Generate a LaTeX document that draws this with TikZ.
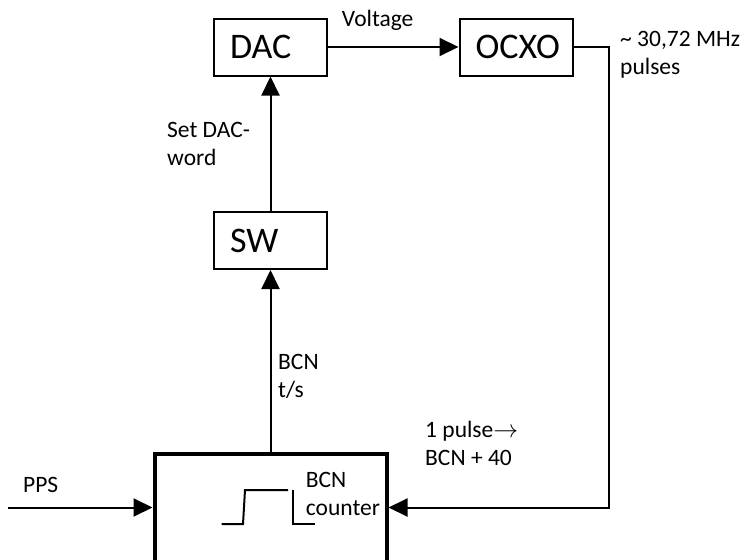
\documentclass[tikz,border=0pt]{standalone}
\usepackage{fontspec}
\setmainfont{Carlito}
\usetikzlibrary{arrows.meta}
\begin{document}
\begin{tikzpicture}[x=1pt,y=-1pt,
  box/.style={draw, line width=2pt, minimum width=113pt, minimum height=57pt,
    text width=81pt, align=left, inner xsep=16pt, inner ysep=0pt,
    font=\fontsize{36}{40}\selectfont, text height=23pt, text depth=0pt},
  bigbox/.style={draw, line width=4pt, minimum width=232pt, minimum height=108pt, inner sep=0pt},
  conn/.style={line width=2pt, -{Triangle[length=19pt,width=18pt]}},
  wire/.style={line width=2pt},
  lbl/.style={anchor=base west, align=left, inner sep=0pt,
    font=\fontsize{23.5}{28}\selectfont},
]
\useasboundingbox (0,0) rectangle (745,560);
\begin{scope}
\clip (0,0) rectangle (745,560);
\node[bigbox] (bcn) at (270.5,507.5) {};
\end{scope}
\node[box] (dac) at (270.5,47) {DAC};
\node[box] (ocxo) at (516,47) {OCXO};
\node[box] (sw) at (270.5,240.5) {SW};

\coordinate (c1) at (609,47);
\coordinate (ppsin) at (8,507.5);

\draw[conn] (dac.east) -- (ocxo.west);
\draw[conn] (sw.north) -- (dac.south);
\draw[conn] (bcn.north) -- (sw.south);
\draw[conn] (ocxo.east) -- (c1) |- (bcn.east);
\draw[conn] (ppsin) -- (bcn.west);

% pulse symbol
\draw[wire] (221.7,524) -- (243,524) -- (245,490) -- (288,490);
\draw[wire] (292.7,490) -- (292.7,524) -- (315,524);

% multi-line labels: base anchor = baseline of the last line
\node[lbl] (lvolt) at (341.7,26) {Voltage};
\node[lbl] (lset) at (167,165.5) {Set DAC-\\word};
\node[lbl] (lbcnts) at (278,397.5) {BCN\\t/s};
\node[lbl] (lfreq) at (620,74.5) {\textasciitilde{} 30,72 MHz\\pulses};
\node[lbl] (lpulse) at (425,465.5) {1 pulse$\rightarrow$\\BCN + 40};
\node[lbl] (lpps) at (23,492.3) {PPS};
\node[lbl] (lcnt) at (305.7,515) {BCN\\counter};
\end{tikzpicture}
\end{document}
